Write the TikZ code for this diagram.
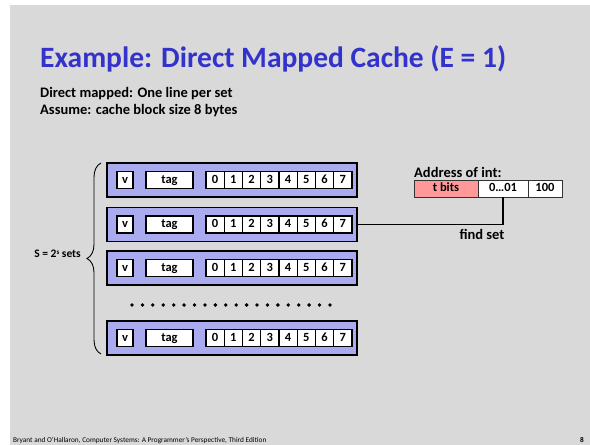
\documentclass[tikz,border=0pt]{standalone}
\usepackage{fontspec}
\setmainfont{Carlito}
\usetikzlibrary{decorations.pathreplacing,calc}
\definecolor{slidebg}{HTML}{D9D9D9}
\definecolor{titleblue}{HTML}{3333CC}
\definecolor{linefill}{HTML}{AAAAEE}
\definecolor{tagred}{HTML}{FF9999}
\newcommand{\fsz}[1]{\fontsize{#1}{#1}\selectfont}
\begin{document}
\begin{tikzpicture}[x=1pt,y=-1pt,
  cacheline/.style={draw=black, line width=1.5pt, fill=linefill,
    minimum width=250pt, minimum height=34pt, inner sep=0pt},
  field/.style={draw=black, line width=1.3pt, fill=white,
    minimum height=17pt, inner sep=0pt, text height=8.6pt, text depth=2.6pt,
    font=\bfseries\fsz{12.5}},
  addr/.style={draw=black!80, line width=0.9pt, fill=white,
    minimum height=17pt, inner sep=0pt, text height=8.6pt, text depth=2.6pt,
    font=\bfseries\fsz{12.5}},
  lbl/.style={inner sep=0pt, font=\bfseries\fsz{14.5}},
  wire/.style={draw=black, line width=1.1pt}
]
% slide area
\fill[white] (0,0) rectangle (590,445);
\fill[slidebg] (10,5) rectangle (590,445);
\useasboundingbox (0,0) rectangle (590,445);

% heading
\node[anchor=base west, inner sep=0pt, text=titleblue, font=\bfseries\fsz{29.5}]
  (title) at (40,67) {Example: Direct Mapped Cache (E = 1)};
\node[anchor=base west, inner sep=0pt, font=\bfseries\fsz{14.5}]
  (sub1) at (40,97.5) {Direct mapped: One line per set};
\node[anchor=base west, inner sep=0pt, font=\bfseries\fsz{14.5}]
  (sub2) at (40,114.5) {Assume: cache block size 8 bytes};

% cache lines: valid bit, tag, 8-byte block
\foreach \r/\y in {1/180, 2/224.5, 3/268, 4/338} {
  \node[cacheline] (row\r) at (232,\y) {};
  \node[field, minimum width=16pt] (v\r) at (125,\y) {v};
  \node[field, minimum width=47pt] (tag\r) at (169.5,\y) {tag};
  \foreach \i in {0,...,7} {
    \node[field, minimum width=18.25pt] (b\r-\i) at ({206+9.125+18.25*\i},\y) {\i};
  }
}

% elided sets
\foreach \k in {0,...,19} {
  \fill ({132+10.42*\k},305) circle (1.9pt);
}

% set brace
\coordinate (btop) at (101,163);
\coordinate (bbot) at (101,354);
\draw[line width=0.9pt, decorate, decoration={brace, amplitude=14pt}]
  (bbot) -- (btop);
\node[anchor=east, inner sep=0pt, font=\bfseries\fsz{11.5}] (sets) at (81,254)
  {S = 2\raisebox{0.55ex}{\fsz{7}s} sets};

% address fields
\node[lbl, anchor=base west] (addrlbl) at (414,177) {Address of int:};
\node[addr, fill=tagred, minimum width=64pt] (tbits) at (446,188.5) {t bits};
\node[addr, minimum width=50pt] (sbits) at (503,188.5) {0…01};
\node[addr, minimum width=34pt] (obits) at (545,188.5) {100};

% set index selects the set
\draw[wire] (sbits.south) |- (row2.east);
\node[lbl] (findset) at (482,234) {find set};

% footer
\node[anchor=base west, inner sep=0pt, font=\fsz{7.3}] (foot) at (13,442)
  {Bryant and O’Hallaron, Computer Systems: A Programmer’s Perspective, Third Edition};
\node[anchor=base east, inner sep=0pt, font=\bfseries\fsz{7.3}] (pg) at (584,442) {8};
\end{tikzpicture}
\end{document}
